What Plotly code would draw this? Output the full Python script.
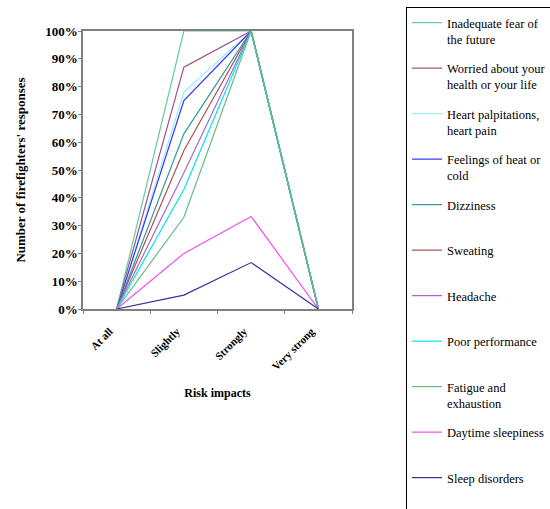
import plotly.graph_objects as go

categories = ["At all", "Slightly", "Strongly", "Very strong"]
series_names = [
    "Inadequate fear of<br>the future",
    "Worried about your<br>health or your life",
    "Heart palpitations,<br>heart pain",
    "Feelings of heat or<br>cold",
    "Dizziness<br> ",
    "Sweating<br> ",
    "Headache<br> ",
    "Poor performance<br> ",
    "Fatigue and<br>exhaustion",
    "Daytime sleepiness<br> ",
    "Sleep disorders<br> ",
]
values = [
    [0, 1.00, 1.00, 0],
    [0, 0.87, 1.00, 0],
    [0, 0.78, 1.00, 0],
    [0, 0.75, 1.00, 0],
    [0, 0.63, 1.00, 0],
    [0, 0.57, 1.00, 0],
    [0, 0.49, 1.00, 0],
    [0, 0.43, 1.00, 0],
    [0, 0.33, 1.00, 0],
    [0, 0.20, 0.333, 0],
    [0, 0.05, 0.167, 0],
]
colors = ["#66CC99", "#A05080", "#99EEFF", "#3333FF", "#339999", "#B05050",
          "#AA66CC", "#00E5EE", "#66BB88", "#F050F0", "#333399"]
y_ticks = [i / 10 for i in range(11)]
y_tick_labels = [f"{i*10}%" for i in range(11)]

fig = go.Figure()
for i, (name, vals, col) in enumerate(zip(series_names, values, colors)):
    fig.add_trace(go.Scatter(x=categories, y=vals, name=name, mode="lines",
                             line=dict(color=col, width=1.2),
                             legendgroup=f"g{i}"))

serif = "Liberation Serif, Times New Roman, serif"
fig.update_layout(
    width=550, height=509,
    margin=dict(l=83, r=198, t=31, b=200, autoexpand=False),
    paper_bgcolor="white", plot_bgcolor="white",
    font=dict(family=serif, color="black"),
    showlegend=True,
    legend=dict(x=406 / 550, y=1 - 7 / 509, xref="container", yref="container",
                xanchor="left", yanchor="top", maxheight=520,
                bordercolor="black", borderwidth=1, bgcolor="white",
                font=dict(family=serif, size=12.5, color="black"),
                valign="top", tracegroupgap=10, itemwidth=30),
    xaxis=dict(type="category", range=[-0.5, 3.5], tickson="boundaries",
               automargin=False,
               ticks="outside", ticklen=3, tickcolor="#808080",
               showline=True, linecolor="#808080", linewidth=1.5, mirror=True,
               showgrid=False, tickangle=-45,
               ticklabelstandoff=10, ticklabelshift=-7,
               tickfont=dict(family=serif, size=11, color="black", weight="bold"),
               title=dict(text="<b>Risk impacts</b>", font=dict(family=serif, size=12), standoff=17)),
    yaxis=dict(range=[0, 1], tickvals=y_ticks, ticktext=y_tick_labels,
               automargin=False,
               ticks="outside", ticklen=3, tickcolor="#808080",
               showline=True, linecolor="#808080", linewidth=1.5, mirror=True,
               showgrid=False, zeroline=False, ticklabelstandoff=-2,
               tickfont=dict(family=serif, size=13, color="black", weight="bold"),
               title=dict(text="<b>Number of firefighters' responses</b>",
                          font=dict(family=serif, size=13), standoff=17)),
)
fig.write_html("out.html", config={"displayModeBar": False},
               post_script="document.body.style.margin='0';")
